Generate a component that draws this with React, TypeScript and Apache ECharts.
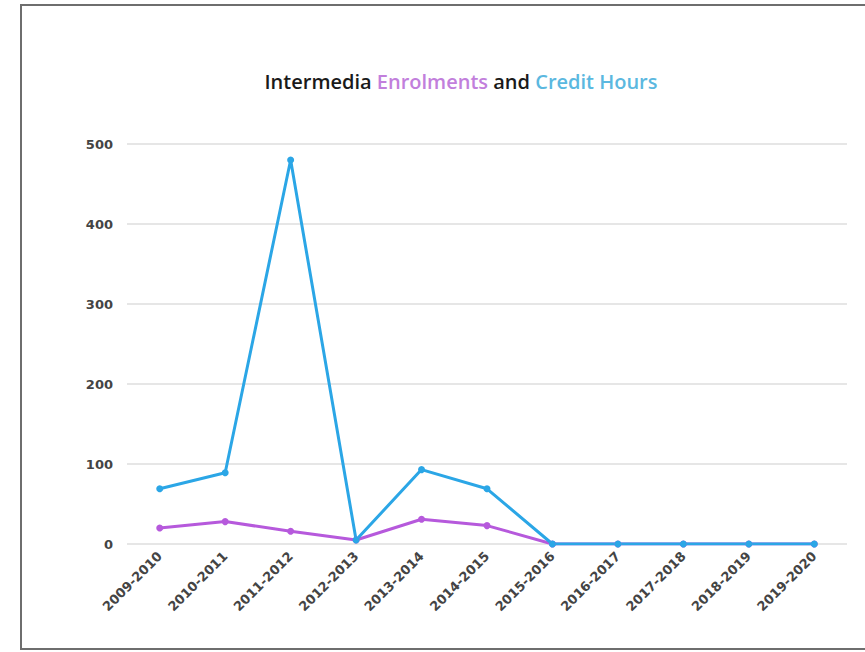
import React, { useEffect, useRef } from "react";
import * as echarts from "echarts";

const categories = [
  "2009-2010", "2010-2011", "2011-2012", "2012-2013", "2013-2014", "2014-2015",
  "2015-2016", "2016-2017", "2017-2018", "2018-2019", "2019-2020",
];
const enrolments = [20, 28, 16, 5, 31, 23, 0, 0, 0, 0, 0];
const creditHours = [69, 89, 480, 5, 93, 69, 0, 0, 0, 0, 0];
const yTicks = { min: 0, max: 500, interval: 100 };

const titleFont = "'Open Sans', 'Noto Sans', sans-serif";
const axisFont = "'DejaVu Sans', sans-serif";

export default function App() {
  const ref = useRef<HTMLDivElement>(null);
  useEffect(() => {
    if (!ref.current) return;
    const chart = echarts.init(ref.current, undefined, { renderer: "svg" });
    chart.setOption({
      animation: false,
      backgroundColor: "#ffffff",
      textStyle: { fontFamily: axisFont },
      graphic: [
        {
          type: "rect",
          shape: { x: 21, y: 5, width: 880, height: 644 },
          style: { fill: "none", stroke: "#6e6e6e", lineWidth: 2 },
          silent: true,
        },
      ],
      title: {
        text: "{k|Intermedia }{p|Enrolments}{k| and }{b|Credit Hours}",
        left: 456,
        textAlign: "center",
        top: 66,
        textStyle: {
          rich: {
            k: { color: "#1a1a1a", fontSize: 20, fontWeight: 600, fontFamily: titleFont },
            p: { color: "#c27fdc", fontSize: 20, fontWeight: 600, fontFamily: titleFont },
            b: { color: "#5bb8e0", fontSize: 20, fontWeight: 600, fontFamily: titleFont },
          },
        },
      },
      grid: { left: 127, right: 18, top: 144, bottom: 108, containLabel: false },
      xAxis: {
        type: "category",
        data: categories,
        boundaryGap: true,
        axisLine: { show: false },
        axisTick: { show: false },
        axisLabel: {
          rotate: 45,
          color: "#444444",
          fontSize: 13,
          fontWeight: "bold",
          fontFamily: axisFont,
          margin: 10,
          padding: [0, 0, 0, 0],
          interval: 0,
        },
      },
      yAxis: {
        type: "value",
        min: yTicks.min,
        max: yTicks.max,
        interval: yTicks.interval,
        axisLine: { show: false },
        axisTick: { show: false },
        splitLine: { lineStyle: { color: "#e6e6e6", width: 2 } },
        axisLabel: { color: "#444444", fontSize: 13, fontWeight: "bold", fontFamily: axisFont, margin: 14 },
      },
      series: [
        {
          name: "Enrolments",
          type: "line",
          data: enrolments,
          symbol: "circle",
          symbolSize: 7,
          lineStyle: { color: "#b659dc", width: 3 },
          itemStyle: { color: "#b659dc" },
        },
        {
          name: "Credit Hours",
          type: "line",
          data: creditHours,
          symbol: "circle",
          symbolSize: 7,
          lineStyle: { color: "#2ba6e6", width: 3 },
          itemStyle: { color: "#2ba6e6" },
        },
      ],
    });
    return () => chart.dispose();
  }, []);
  return (
    <div
      ref={ref}
      style={{ position: "fixed", left: 0, top: 0, width: 865, height: 652 }}
    />
  );
}
